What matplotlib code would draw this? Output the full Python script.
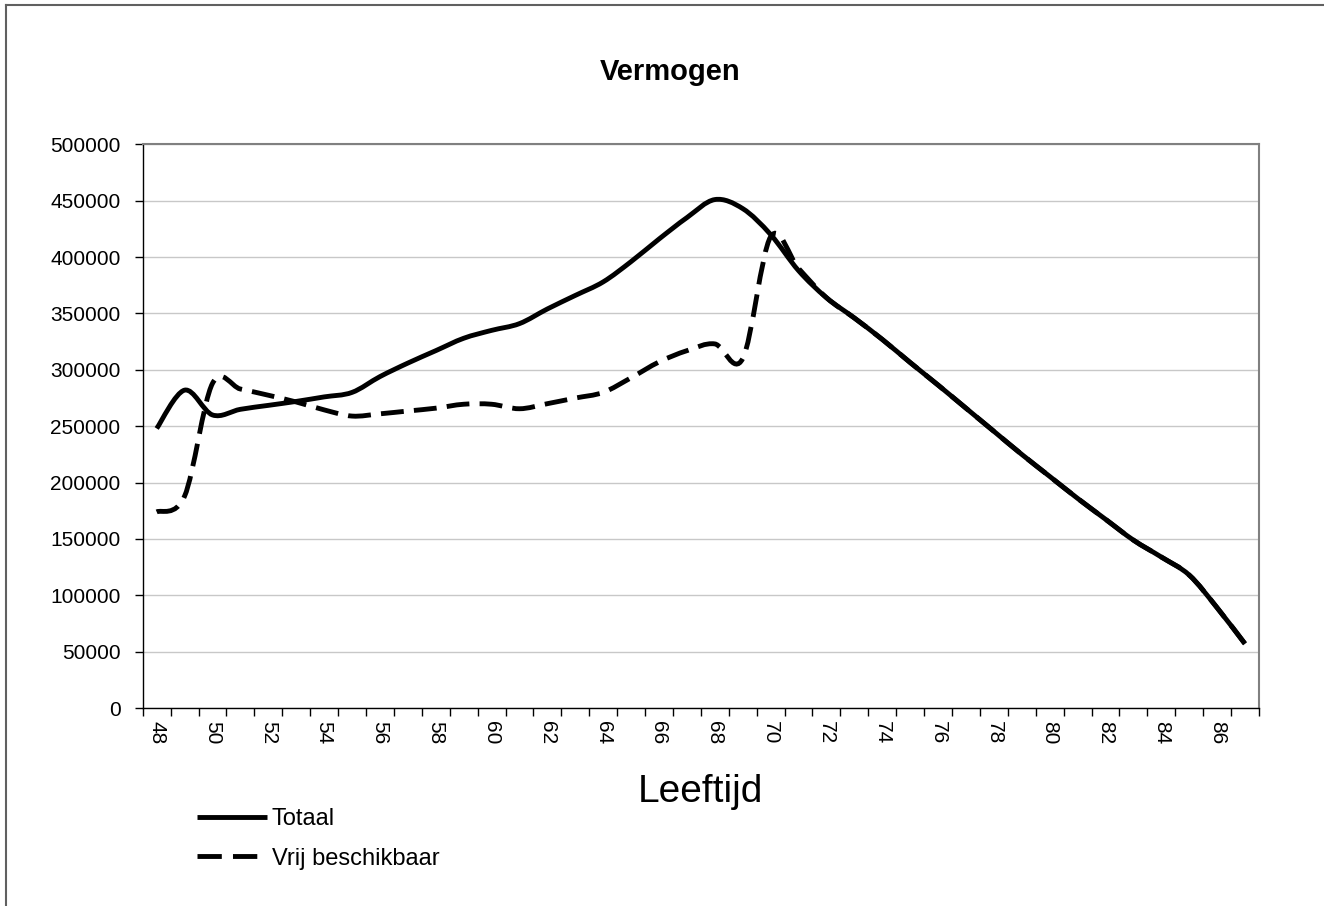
import numpy as np
import matplotlib
matplotlib.use('Agg')
import matplotlib.pyplot as plt
from matplotlib.path import Path
from matplotlib.patches import PathPatch
from matplotlib.lines import Line2D

# --------- Daten ------------
leeftijd = list(range(48, 88))
totaal = [248000, 282000, 260000, 265000, 268500, 272000, 276000, 280000, 294000, 306000,
          317000, 328000, 335000, 341000, 354000, 366000, 378000, 396000, 416000, 435000,
          451000, 443000, 420000, 388000, 364000, 346000, 327000, 306500, 286500, 266000,
          245500, 225000, 205500, 186000, 167500, 149000, 134000, 118000, 89000, 57000]
vrij = [174000, 188000, 288000, 283000, 277500, 271500, 264500, 259000, 261000, 263500,
        266000, 269500, 269500, 265500, 270000, 275000, 280000, 293000, 307000, 317000,
        323000, 310000, 418000, 390000, 364000, 346000, 327000, 306500, 286500, 266000,
        245500, 225000, 205500, 186000, 167500, 149000, 134000, 118000, 89000, 57000]
y_ticks = list(range(0, 500001, 50000))

plt.rcParams['font.family'] = ['Liberation Sans', 'DejaVu Sans']


def smooth_path(xs, ys):
    # Excel-achtige gladde lijn: Catmull-Rom als Bezier
    xs = np.asarray(xs, float)
    ys = np.asarray(ys, float)
    px = np.concatenate([[xs[0]], xs, [xs[-1]]])
    py = np.concatenate([[ys[0]], ys, [ys[-1]]])
    verts = [(xs[0], ys[0])]
    codes = [Path.MOVETO]
    for i in range(1, len(xs)):
        c1 = (px[i] + (px[i + 1] - px[i - 1]) / 6, py[i] + (py[i + 1] - py[i - 1]) / 6)
        c2 = (px[i + 1] - (px[i + 2] - px[i]) / 6, py[i + 1] - (py[i + 2] - py[i]) / 6)
        verts += [c1, c2, (px[i + 1], py[i + 1])]
        codes += [Path.CURVE4] * 3
    return Path(verts, codes)


fig = plt.figure(figsize=(13.24, 9.06), dpi=100)
ax = fig.add_axes([0.1078, 0.2184, 0.8431, 0.6223])

pos = np.arange(len(leeftijd))
lw = 3.5
dash = (0, (4.7, 2.1))

p_vrij = PathPatch(smooth_path(pos, vrij), fill=False, edgecolor='black', lw=lw,
                   linestyle=dash, capstyle='butt', transform=ax.transData, zorder=3)
ax.add_patch(p_vrij)
p_tot = PathPatch(smooth_path(pos, totaal), fill=False, edgecolor='black', lw=lw,
                  capstyle='butt', joinstyle='round', transform=ax.transData, zorder=4)
ax.add_patch(p_tot)

ax.set_xlim(-0.5, len(leeftijd) - 0.5)
ax.set_ylim(0, 500000)

# y-as
ax.set_yticks(y_ticks)
ax.set_yticklabels([str(v) for v in y_ticks], fontsize=15)
ax.tick_params(axis='y', direction='out', length=6, width=1, pad=10)
ax.yaxis.grid(True, color='#c8c8c8', lw=1)
ax.set_axisbelow(True)

# x-as
ax.set_xticks(np.arange(-0.5, len(leeftijd), 1))
ax.set_xticklabels([])
ax.tick_params(axis='x', which='major', direction='out', length=6, width=1)
ax.set_xticks(pos[::2], minor=True)
ax.set_xticklabels([str(a) for a in leeftijd[::2]], minor=True, rotation=270,
                   fontsize=15, ha='center', va='top')
ax.tick_params(axis='x', which='minor', length=0, pad=9)

for s in ['left', 'bottom']:
    ax.spines[s].set_color('black')
    ax.spines[s].set_linewidth(1)
for s in ['top', 'right']:
    ax.spines[s].set_color('#808080')
    ax.spines[s].set_linewidth(1.5)

fig.text(0.506, 0.920, 'Vermogen', fontsize=21, fontweight='bold', ha='center', va='center')
fig.text(0.529, 0.126, 'Leeftijd', fontsize=28, ha='center', va='center')

handles = [Line2D([], [], color='black', lw=lw, solid_capstyle='butt'),
           Line2D([], [], color='black', lw=lw, linestyle=(0, (5.0, 2.3)), dash_capstyle='butt')]
fig.legend(handles, ['Totaal', 'Vrij beschikbaar'], loc='upper left',
           bbox_to_anchor=(197 / 1324, 1 - 808 / 906), frameon=False, fontsize=17,
           handlelength=2.95, handletextpad=0.22, labelspacing=0.75, borderpad=0,
           borderaxespad=0)

# rand van de grafiek
fig.add_artist(Line2D([0.0042, 1], [0.9948, 0.9948], color='#606060', lw=1.5))
fig.add_artist(Line2D([0.0042, 0.0042], [0, 0.9948], color='#606060', lw=1.5))

fig.savefig('out.png', dpi=100)
